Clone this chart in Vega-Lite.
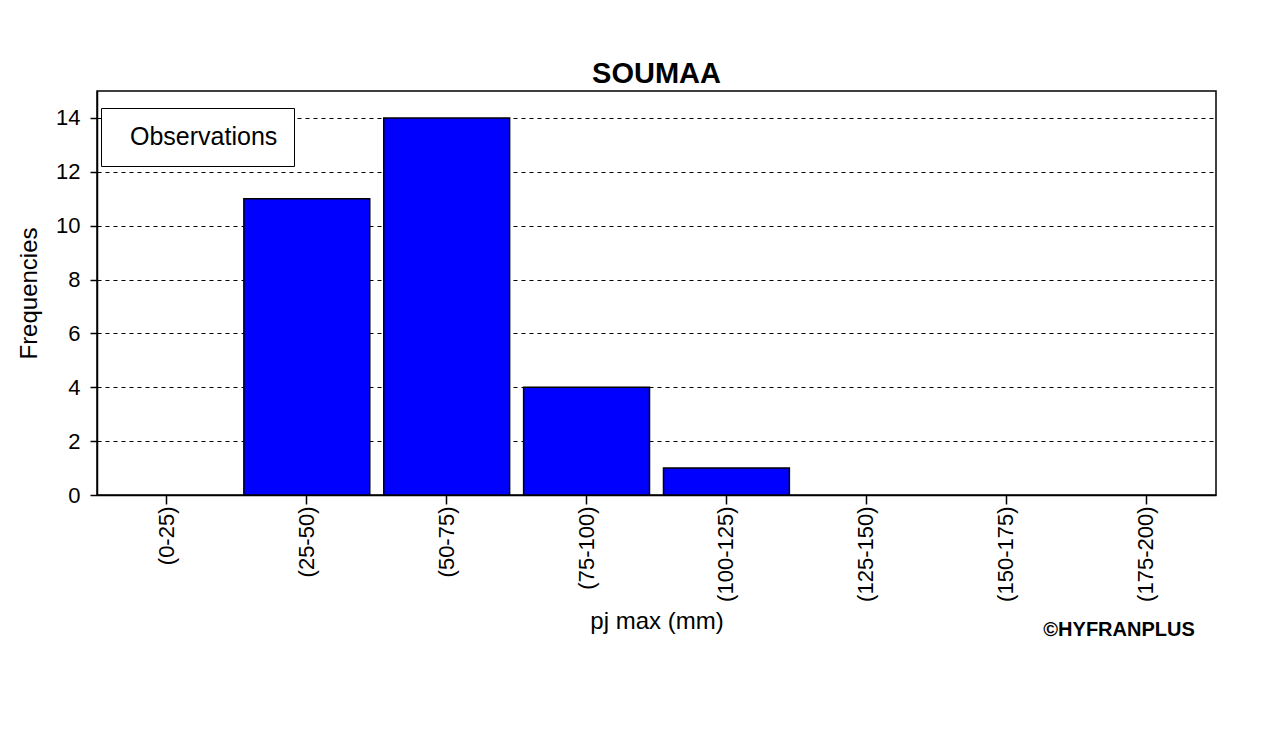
{
  "$schema": "https://vega.github.io/schema/vega-lite/v6.json",
  "width": 1119,
  "height": 404,
  "autosize": {"type": "none"},
  "padding": {"left": 97, "top": 91, "right": 53, "bottom": 236},
  "background": "white",
  "title": {"text": "SOUMAA", "font": "Liberation Sans", "fontSize": 29, "fontWeight": "bold", "color": "black", "offset": 2, "anchor": "middle"},
  "config": {
    "view": {"stroke": "black", "strokeWidth": 1.5},
    "font": "Liberation Sans",
    "axis": {"labelFont": "Liberation Sans", "titleFont": "Liberation Sans", "labelColor": "black", "titleColor": "black", "domainColor": "black", "tickColor": "black", "labelFontSize": 22, "titleFontSize": 24, "titleFontWeight": "normal", "domainWidth": 1.5, "tickWidth": 1.5}
  },
  "datasets": {
    "freq": [
      {"classe": "(0-25)", "frequence": 0, "serie": "Observations"},
      {"classe": "(25-50)", "frequence": 11, "serie": "Observations"},
      {"classe": "(50-75)", "frequence": 14, "serie": "Observations"},
      {"classe": "(75-100)", "frequence": 4, "serie": "Observations"},
      {"classe": "(100-125)", "frequence": 1, "serie": "Observations"},
      {"classe": "(125-150)", "frequence": 0, "serie": "Observations"},
      {"classe": "(150-175)", "frequence": 0, "serie": "Observations"},
      {"classe": "(175-200)", "frequence": 0, "serie": "Observations"}
    ],
    "credit": [{"label": "©HYFRANPLUS", "classe": "(175-200)", "pos": -5}]
  },
  "encoding": {
    "x": {"field": "classe", "type": "nominal", "sort": null,
      "scale": {"paddingInner": 0.1, "paddingOuter": 0.05},
      "axis": {"title": "pj max (mm)", "labelAngle": 270, "tickSize": 9, "labelPadding": 2, "titlePadding": 8, "grid": false}},
    "y": {"field": "frequence", "type": "quantitative",
      "scale": {"domain": [0, 15], "nice": false},
      "axis": {"title": "Frequencies", "values": [0, 2, 4, 6, 8, 10, 12, 14], "tickSize": 7, "labelPadding": 10, "titlePadding": 14,
        "grid": true, "gridColor": "black", "gridDash": [4, 4], "gridWidth": 1.2, "gridOpacity": 1}}
  },
  "layer": [
    {
      "data": {"name": "freq"},
      "mark": {"type": "bar", "stroke": "black", "strokeWidth": 1.5},
      "encoding": {
        "strokeOpacity": {"condition": {"test": "datum.frequence == 0", "value": 0}, "value": 1},
        "color": {"field": "serie", "type": "nominal", "scale": {"range": ["#0000ff"]},
          "legend": {"title": null, "orient": "none", "legendX": 4, "legendY": 17, "strokeColor": "black", "fillColor": "white", "padding": 16, "symbolSize": 0, "symbolStrokeWidth": 0, "symbolOpacity": 0, "labelOffset": -12, "labelFontSize": 25, "labelFont": "Liberation Sans", "labelColor": "black"}}
      }
    },
    {
      "data": {"name": "credit"},
      "mark": {"type": "text", "font": "Liberation Sans", "fontSize": 20, "fontWeight": "bold", "color": "black", "dx": -27, "align": "center", "baseline": "middle"},
      "encoding": {
        "x": {"field": "classe", "type": "nominal"},
        "y": {"field": "pos", "type": "quantitative"},
        "text": {"field": "label"}
      }
    }
  ]
}
